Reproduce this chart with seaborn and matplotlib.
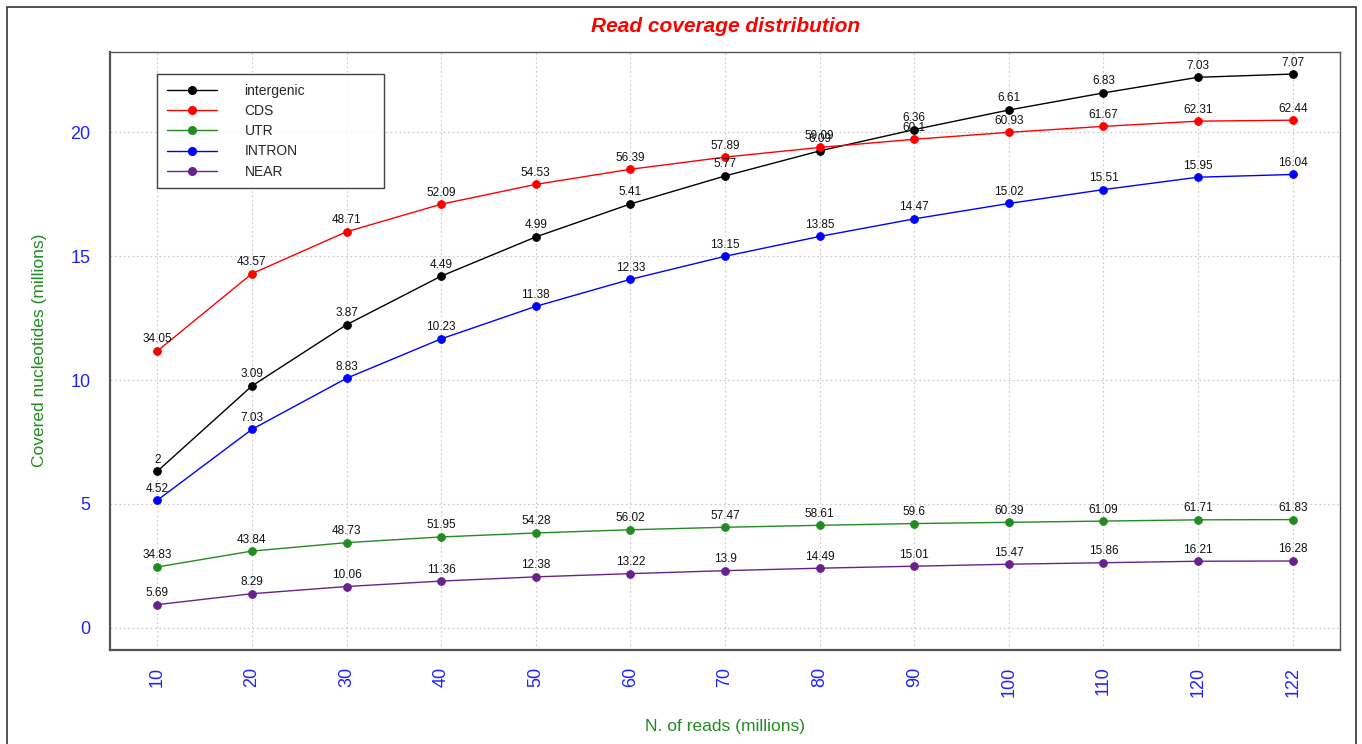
import matplotlib
matplotlib.use("Agg")
import matplotlib.pyplot as plt
from matplotlib.lines import Line2D
from matplotlib.patches import Rectangle
import seaborn as sns
import pandas as pd

# ---------------- data ----------------
reads = ["10", "20", "30", "40", "50", "60", "70", "80", "90", "100", "110", "120", "122"]
regions = ["intergenic", "CDS", "UTR", "INTRON", "NEAR"]

intergenic_vals = [6.32, 9.76, 12.23, 14.19, 15.77, 17.10, 18.23, 19.24, 20.10, 20.89, 21.58, 22.21, 22.34]
cds_vals = [11.17, 14.29, 15.98, 17.09, 17.89, 18.50, 18.99, 19.38, 19.71, 19.99, 20.23, 20.44, 20.48]
utr_vals = [2.46, 3.10, 3.44, 3.67, 3.83, 3.96, 4.06, 4.14, 4.21, 4.26, 4.31, 4.36, 4.37]
intron_vals = [5.15, 8.01, 10.07, 11.66, 12.97, 14.06, 14.99, 15.79, 16.50, 17.12, 17.68, 18.18, 18.29]
near_vals = [0.94, 1.38, 1.67, 1.89, 2.06, 2.19, 2.31, 2.41, 2.49, 2.57, 2.63, 2.69, 2.70]

intergenic_lbl = ["2", "3.09", "3.87", "4.49", "4.99", "5.41", "5.77", "6.09", "6.36", "6.61", "6.83", "7.03", "7.07"]
cds_lbl = ["34.05", "43.57", "48.71", "52.09", "54.53", "56.39", "57.89", "59.09", "60.1", "60.93", "61.67", "62.31", "62.44"]
utr_lbl = ["34.83", "43.84", "48.73", "51.95", "54.28", "56.02", "57.47", "58.61", "59.6", "60.39", "61.09", "61.71", "61.83"]
intron_lbl = ["4.52", "7.03", "8.83", "10.23", "11.38", "12.33", "13.15", "13.85", "14.47", "15.02", "15.51", "15.95", "16.04"]
near_lbl = ["5.69", "8.29", "10.06", "11.36", "12.38", "13.22", "13.9", "14.49", "15.01", "15.47", "15.86", "16.21", "16.28"]

y_ticks = [0, 5, 10, 15, 20]

values = {"intergenic": intergenic_vals, "CDS": cds_vals, "UTR": utr_vals,
          "INTRON": intron_vals, "NEAR": near_vals}
labels = {"intergenic": intergenic_lbl, "CDS": cds_lbl, "UTR": utr_lbl,
          "INTRON": intron_lbl, "NEAR": near_lbl}
colors = {"intergenic": "#000000", "CDS": "#FF0000", "UTR": "#228B22",
          "INTRON": "#0000FF", "NEAR": "#68228B"}

rows = []
for r in regions:
    for x, v in zip(reads, values[r]):
        rows.append({"reads": x, "value": v, "region": r})
df = pd.DataFrame(rows)

# ---------------- style ----------------
sns.set_theme(style="white")
plt.rcParams["font.family"] = ["Liberation Sans Narrow", "Liberation Sans", "DejaVu Sans"]

W, H = 1362, 744
fig = plt.figure(figsize=(W / 100, H / 100), dpi=100)
fig.patch.set_facecolor("white")
ax = fig.add_axes([110 / W, 1 - 650 / H, (1340 - 110) / W, (650 - 52) / H])

# outer frame
fig.patches.append(Rectangle((7 / W, -0.02), (1356 - 7) / W, 1.02 - 7 / H,
                             transform=fig.transFigure, fill=False,
                             edgecolor="#333333", linewidth=1.2, zorder=0))

sns.pointplot(data=df, x="reads", y="value", hue="region", order=reads,
              hue_order=regions, palette=colors, markers="o", linestyles="-",
              errorbar=None, dodge=False, ax=ax, legend=False,
              markersize=5.5, linewidth=1.0)

# annotations
for r in regions:
    for i, (v, t) in enumerate(zip(values[r], labels[r])):
        ax.annotate(t, (i, v), xytext=(0, 4), textcoords="offset points",
                    ha="center", va="bottom", fontsize=8.5, color="#111111")

ax.set_xlim(-0.5, 12.5)
ax.set_ylim(-0.89, 23.23)
ax.set_yticks(y_ticks)
ax.set_yticklabels([str(t) for t in y_ticks])
ax.grid(True, linestyle=(0, (1.5, 2.5)), color="#c8c8c8", linewidth=0.8)
ax.set_axisbelow(True)

ax.tick_params(axis="y", length=0, pad=14, labelsize=13, labelcolor="#2222FF")
ax.tick_params(axis="x", length=0, pad=12, labelsize=13, labelcolor="#2222FF",
               labelrotation=90)

for s in ax.spines.values():
    s.set_color("#555555")
    s.set_linewidth(1.0)
ax.spines["left"].set_linewidth(1.6)
ax.spines["bottom"].set_linewidth(1.6)

ax.set_xlabel("")
ax.set_ylabel("")
fig.text(40 / W, 1 - 350 / H, "Covered nucleotides (millions)", rotation=90,
         ha="center", va="center", fontsize=12.5, color="#228B22")
fig.text(725 / W, 1 - 727 / H, "N. of reads (millions)", ha="center",
         va="center", fontsize=12.5, color="#228B22")
fig.text(726 / W, 1 - 26 / H, "Read coverage distribution", ha="center",
         va="center", fontsize=15, color="#FF0000", fontweight="bold",
         fontstyle="italic")

handles = [Line2D([0], [0], color=colors[r], marker="o", markersize=5.5,
                  linewidth=1.0) for r in regions]
leg = ax.legend(handles, regions, loc="upper left",
                bbox_to_anchor=((157 - 110) / 1230, (650 - 74) / 598,
                                (384 - 157) / 1230, 0.0),
                mode="expand", fontsize=10, frameon=True, fancybox=False,
                edgecolor="#111111", handlelength=3.6, handletextpad=2.0,
                labelspacing=0.45, borderpad=0.7, borderaxespad=0)
leg.get_frame().set_linewidth(1.0)

fig.savefig("out.png", dpi=100, facecolor="white")
